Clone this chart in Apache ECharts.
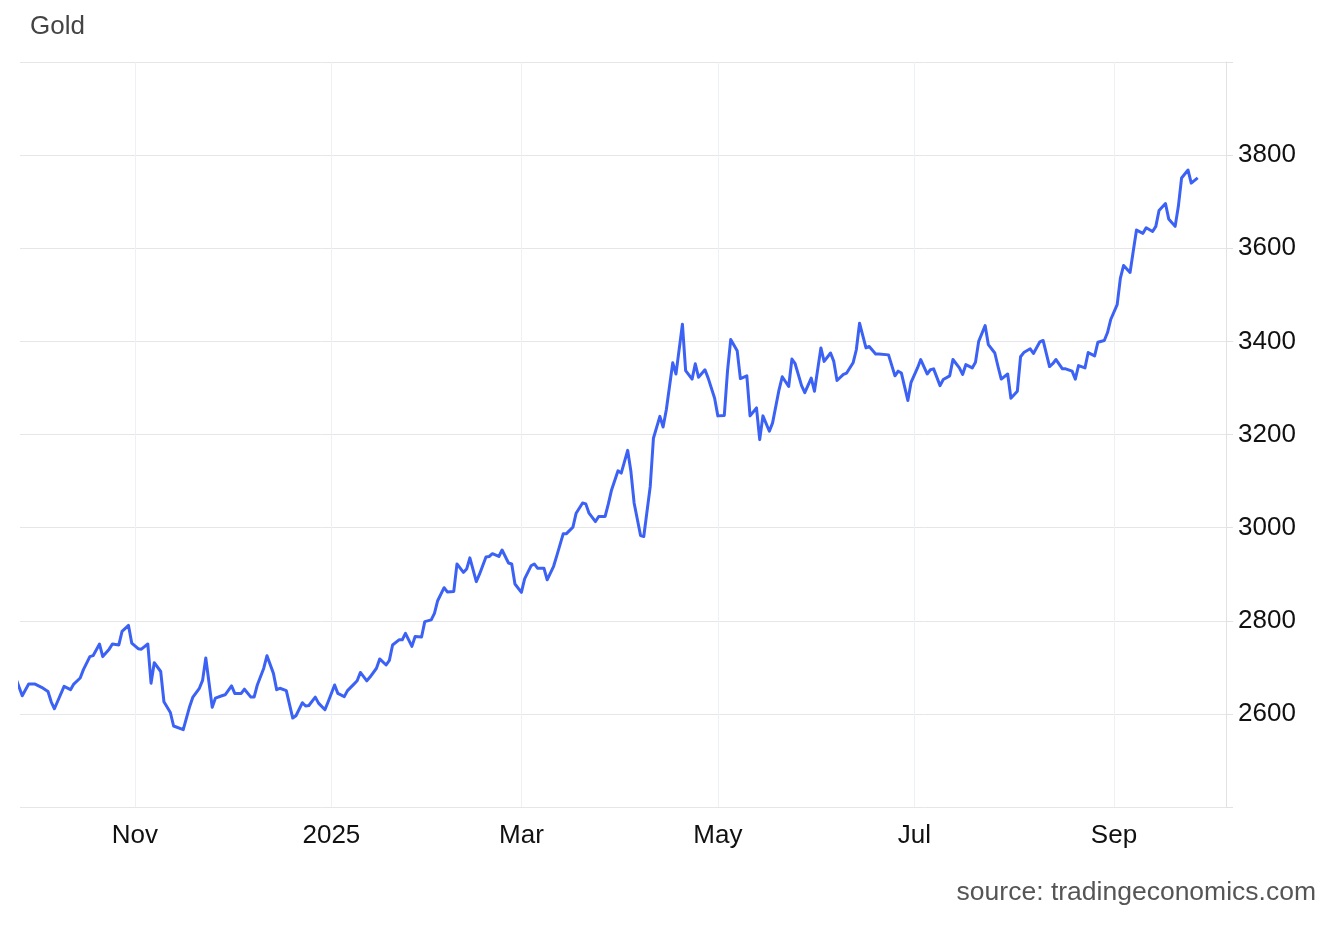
<!DOCTYPE html>
<html><head><meta charset="utf-8">
<script src="https://cdn.jsdelivr.net/npm/echarts@6/dist/echarts.min.js"></script>
<style>html,body{margin:0;padding:0;background:#fff}#c{width:1332px;height:928px}</style>
</head><body><div id="c"></div>
<script>
const dates = [
'2024-09-25','2024-09-27','2024-09-29','2024-10-01','2024-10-03','2024-10-05','2024-10-06','2024-10-07','2024-10-10','2024-10-12',
'2024-10-13','2024-10-15','2024-10-16','2024-10-18','2024-10-19','2024-10-21','2024-10-22','2024-10-24','2024-10-25','2024-10-27',
'2024-10-28','2024-10-30','2024-10-31','2024-11-02','2024-11-03','2024-11-05','2024-11-06','2024-11-07','2024-11-09','2024-11-10',
'2024-11-12','2024-11-13','2024-11-16','2024-11-18','2024-11-19','2024-11-21','2024-11-22','2024-11-23','2024-11-25','2024-11-26',
'2024-11-28','2024-11-29','2024-12-01','2024-12-02','2024-12-04','2024-12-05','2024-12-07','2024-12-08','2024-12-09','2024-12-11',
'2024-12-12','2024-12-14','2024-12-15','2024-12-16','2024-12-18','2024-12-20','2024-12-21','2024-12-23','2024-12-24','2024-12-25',
'2024-12-27','2024-12-28','2024-12-30','2024-12-31','2025-01-02','2025-01-03','2025-01-05','2025-01-06','2025-01-08','2025-01-09',
'2025-01-10','2025-01-12','2025-01-13','2025-01-15','2025-01-16','2025-01-18','2025-01-19','2025-01-20','2025-01-22','2025-01-23',
'2025-01-24','2025-01-26','2025-01-27','2025-01-29','2025-01-30','2025-02-01','2025-02-02','2025-02-03','2025-02-05','2025-02-06',
'2025-02-08','2025-02-09','2025-02-11','2025-02-12','2025-02-13','2025-02-15','2025-02-16','2025-02-18','2025-02-19','2025-02-20',
'2025-02-22','2025-02-23','2025-02-25','2025-02-26','2025-02-27','2025-03-01','2025-03-02','2025-03-04','2025-03-05','2025-03-06',
'2025-03-08','2025-03-09','2025-03-11','2025-03-12','2025-03-14','2025-03-15','2025-03-17','2025-03-18','2025-03-20','2025-03-21',
'2025-03-22','2025-03-24','2025-03-25','2025-03-27','2025-03-28','2025-03-29','2025-03-31','2025-04-01','2025-04-03','2025-04-04',
'2025-04-05','2025-04-07','2025-04-08','2025-04-10','2025-04-11','2025-04-13','2025-04-14','2025-04-15','2025-04-17','2025-04-18',
'2025-04-20','2025-04-21','2025-04-23','2025-04-24','2025-04-25','2025-04-27','2025-04-28','2025-04-30','2025-05-01','2025-05-03',
'2025-05-04','2025-05-05','2025-05-07','2025-05-08','2025-05-10','2025-05-11','2025-05-13','2025-05-14','2025-05-15','2025-05-17',
'2025-05-18','2025-05-20','2025-05-21','2025-05-23','2025-05-24','2025-05-25','2025-05-27','2025-05-28','2025-05-30','2025-05-31',
'2025-06-02','2025-06-03','2025-06-05','2025-06-06','2025-06-07','2025-06-09','2025-06-10','2025-06-12','2025-06-13','2025-06-14',
'2025-06-16','2025-06-17','2025-06-19','2025-06-20','2025-06-23','2025-06-25','2025-06-26','2025-06-27','2025-06-29','2025-06-30',
'2025-07-02','2025-07-03','2025-07-05','2025-07-06','2025-07-07','2025-07-09','2025-07-10','2025-07-12','2025-07-13','2025-07-15',
'2025-07-16','2025-07-17','2025-07-19','2025-07-20','2025-07-21','2025-07-23','2025-07-24','2025-07-26','2025-07-27','2025-07-28',
'2025-07-30','2025-07-31','2025-08-02','2025-08-03','2025-08-04','2025-08-06','2025-08-07','2025-08-09','2025-08-10','2025-08-12',
'2025-08-13','2025-08-14','2025-08-16','2025-08-17','2025-08-19','2025-08-20','2025-08-21','2025-08-23','2025-08-24','2025-08-26',
'2025-08-27','2025-08-29','2025-08-30','2025-08-31','2025-09-02','2025-09-03','2025-09-04','2025-09-06','2025-09-07','2025-09-08',
'2025-09-10','2025-09-11','2025-09-13','2025-09-14','2025-09-15','2025-09-17','2025-09-18','2025-09-20','2025-09-21','2025-09-22',
'2025-09-24','2025-09-25','2025-09-27'
];
const prices = [
2677,2639,2664,2664,2657,2648,2626,2611,2659,2652,
2664,2677,2695,2723,2725,2750,2723,2739,2750,2748,
2777,2790,2752,2740,2739,2750,2666,2710,2691,2626,
2603,2574,2566,2616,2636,2655,2672,2720,2614,2634,
2639,2641,2660,2644,2644,2653,2636,2636,2662,2698,
2725,2687,2652,2655,2650,2591,2596,2624,2617,2618,
2636,2623,2609,2626,2662,2644,2637,2650,2664,2671,
2689,2671,2679,2698,2718,2705,2715,2748,2759,2759,
2773,2745,2766,2765,2798,2802,2816,2843,2871,2862,
2863,2922,2904,2911,2935,2884,2900,2937,2938,2944,
2938,2952,2924,2922,2879,2861,2890,2918,2922,2913,
2913,2888,2917,2940,2987,2987,3001,3031,3053,3051,
3031,3013,3024,3024,3051,3081,3122,3117,3166,3121,
3053,2983,2981,3088,3192,3239,3216,3253,3354,3330,
3437,3337,3319,3352,3323,3339,3321,3278,3240,3241,
3336,3404,3380,3320,3326,3240,3257,3189,3240,3207,
3225,3296,3324,3303,3362,3352,3305,3290,3321,3293,
3386,3357,3375,3357,3316,3329,3332,3354,3382,3439,
3386,3389,3373,3373,3371,3326,3336,3332,3273,3312,
3343,3361,3330,3339,3341,3305,3318,3326,3361,3343,
3329,3350,3343,3355,3400,3434,3393,3375,3346,3319,
3330,3278,3293,3367,3376,3384,3374,3399,3402,3346,
3352,3361,3341,3341,3336,3319,3348,3343,3376,3369,
3398,3402,3419,3447,3479,3536,3563,3548,3594,3639,
3632,3644,3636,3647,3681,3696,3663,3647,3690,3751,
3768,3740,3751
];
const xTickDates = ['2024-11-01','2025-01-01','2025-03-01','2025-05-01','2025-07-01','2025-09-01'];
const xTickLabels = ['Nov','2025','Mar','May','Jul','Sep'];
const yLabelValues = [2600,2800,3000,3200,3400,3600,3800];

function ts(s){
  const p = s.split(/[- :]/).map(Number);
  return new Date(p[0], p[1]-1, p[2], p[3]||0, p[4]||0).getTime();
}
const xTickTs = xTickDates.map(ts);
const seriesData = dates.map((d,i)=>[ts(d), prices[i]]);
const FONT = "'Liberation Sans', Arial, Helvetica, sans-serif";

const chart = echarts.init(document.getElementById('c'), null, {renderer:'canvas'});
chart.setOption({
  animation:false,
  backgroundColor:'#ffffff',
  title:[
    {text:'Gold', left:30, top:14, padding:0,
     textStyle:{fontFamily:FONT, fontSize:26, fontWeight:'normal', color:'#444444'}},
    {text:'source: tradingeconomics.com', right:16, top:879, padding:0,
     textStyle:{fontFamily:FONT, fontSize:26.5, fontWeight:'normal', color:'#555555'}}
  ],
  grid:{left:20, right:106, top:62, bottom:121, containLabel:false},
  xAxis:{
    type:'value',
    min: ts('2024-09-26 07:24'),
    max: ts('2025-10-05 19:00'),
    axisLine:{show:false},
    axisTick:{show:false, customValues:xTickTs},
    axisLabel:{
      customValues:xTickTs, margin:16, hideOverlap:false,
      fontFamily:FONT, fontSize:26, color:'#111111',
      formatter:function(v){
        let best=-1, bd=Infinity;
        xTickTs.forEach((t,j)=>{const dd=Math.abs(t-v); if(dd<bd){bd=dd;best=j;}});
        return bd < 86400000 ? xTickLabels[best] : '';
      }
    },
    splitLine:{show:true, lineStyle:{color:'#edf0f4', width:1}}
  },
  yAxis:{
    type:'value', position:'right',
    min:2400, max:4000, interval:200,
    axisLine:{show:true, lineStyle:{color:'#e2e2e2', width:1}},
    axisTick:{show:true, length:7, lineStyle:{color:'#e2e2e2'}},
    axisLabel:{customValues:yLabelValues, margin:12, fontFamily:FONT, fontSize:26, color:'#111111',
      formatter:function(v){ return String(v); }},
    splitLine:{show:true, lineStyle:{color:'#e6e6e6', width:1}}
  },
  series:[{
    type:'line', data:seriesData, showSymbol:false, symbol:'none',
    lineStyle:{color:'#3b62f4', width:3, join:'round'},
    clip:true
  }]
});
</script></body></html>
